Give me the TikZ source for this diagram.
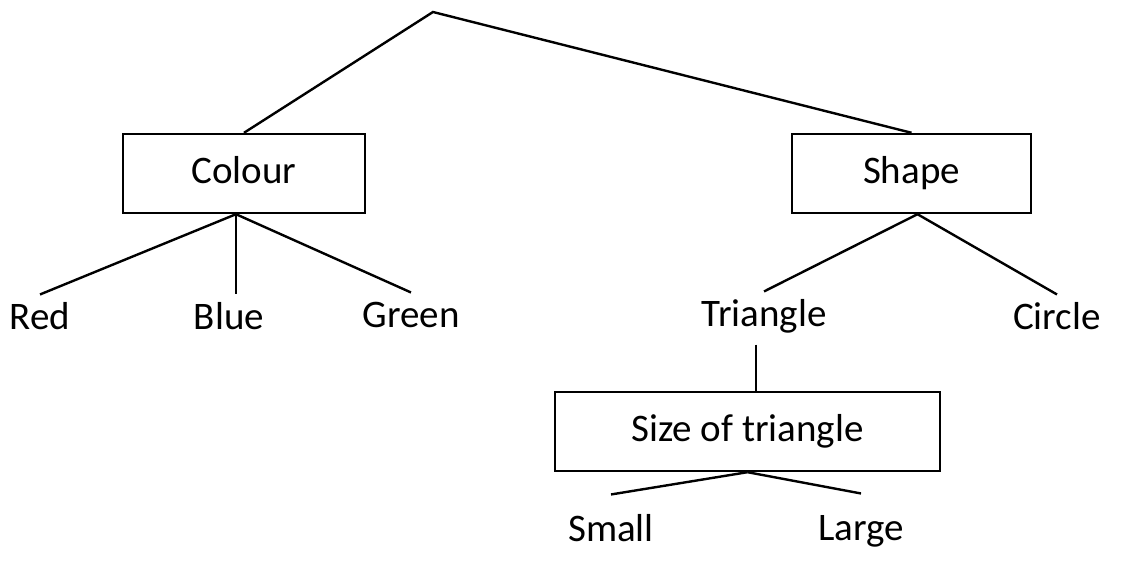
\documentclass[tikz,border=0pt]{standalone}
\usepackage{fontspec}
\setmainfont{Carlito}
\usetikzlibrary{positioning}
\tikzset{category/.style={
                          % The box:
                          rectangle,draw,minimum height=39.5pt,
                          % The text
                          text height=2.25ex,
                          font=\fontsize{19.5}{23}\selectfont,
                          },
         value/.style={
                          inner sep=10pt,anchor=base,
                          font=\fontsize{19.5}{23}\selectfont,
                          }}

\begin{document}
\begin{tikzpicture}[x=0.5pt,y=-0.5pt,
                    line width=1.2pt,
                    text height=1.5ex,text depth=.25ex]
  \useasboundingbox (0,0) rectangle (1126,561);
  % Root of the tree:
  \coordinate (root) at (433,12);
  % First level:
  \node (colour) [category,minimum width=121pt] at (244,173.5) {Colour};
  \node (shape) [category,minimum width=119.5pt] at (911.5,173.5) {Shape};
  % Second level:
  \node (red) [value] at (40,330) {Red};
  \node (blue) [value] at (229,330) {Blue};
  \node (green) [value] at (411,328) {Green};
  \node (triangle) [value] at (764,327) {Triangle};
  \node (circle) [value] at (1057,330) {Circle};
  % Third level:
  \node (size) [category,minimum width=192.5pt] at (747.5,431.5) {Size of triangle};
  \node (small) [value] at (611,542) {Small};
  \node (large) [value] at (861,541) {Large};

  \draw (colour.north) -- (root) -- (shape.north);
  \draw ([xshift=-4pt]colour.south) -- (red.north);
  \draw ([xshift=-4pt]colour.south) -- ([xshift=-4pt]colour.south |- blue.north);
  \draw ([xshift=-4pt]colour.south) -- (green.north);
  \draw ([xshift=3pt]shape.south) -- (triangle.north);
  \draw ([xshift=3pt]shape.south) -- (circle.north);
  \draw ([shift={(-4pt,3pt)}]triangle.south) -- ([xshift=-4pt]triangle.south |- size.north);
  \draw (size.south) -- ([yshift=6pt]small.north);
  \draw (size.south) -- ([yshift=6pt]large.north);
\end{tikzpicture}
\end{document}
